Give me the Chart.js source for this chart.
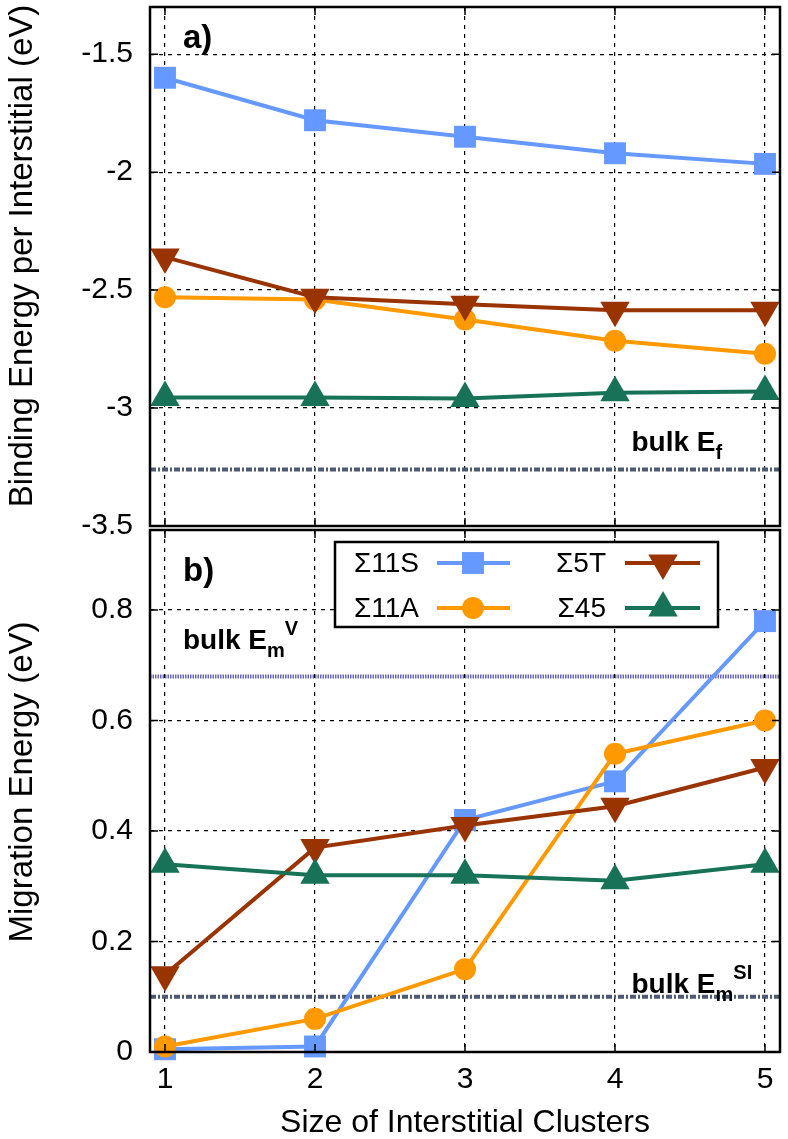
<!DOCTYPE html>
<html>
<head>
<meta charset="utf-8">
<script src="https://cdn.jsdelivr.net/npm/chart.js@4.4.0/dist/chart.umd.min.js"></script>
<style>
  html, body { margin: 0; padding: 0; background: #fff; }
  #wrap { position: relative; width: 788px; height: 1139px; }
  canvas { position: absolute; left: 0; }
  #topChart { top: 0; }
  #bottomChart { top: 524px; }
</style>
</head>
<body>
<div id="wrap">
  <canvas id="topChart" width="788" height="560"></canvas>
  <canvas id="bottomChart" width="788" height="615"></canvas>
</div>
<script>
// cluster sizes on the x axis
const clusterSizes = [1, 2, 3, 4, 5];
const seriesNames = ['Σ11S', 'Σ11A', 'Σ5T', 'Σ45'];

// a) binding energy per interstitial (eV)
const binding11S = [-1.60, -1.78, -1.85, -1.92, -1.965];
const binding11A = [-2.53, -2.54, -2.625, -2.715, -2.77];
const binding5T = [-2.36, -2.53, -2.56, -2.585, -2.585];
const binding45 = [-2.955, -2.955, -2.96, -2.935, -2.93];

// b) migration energy (eV)
const migration11S = [0.005, 0.01, 0.42, 0.49, 0.78];
const migration11A = [0.01, 0.06, 0.15, 0.54, 0.60];
const migration5T = [0.14, 0.37, 0.41, 0.445, 0.515];
const migration45 = [0.34, 0.32, 0.32, 0.31, 0.34];

// bulk reference values
const bulkEf = -3.26;
const bulkEmV = 0.68;
const bulkEmSI = 0.10;

// tick values
const xTicks = [1, 2, 3, 4, 5];
const topTicks = [-3.5, -3, -2.5, -2, -1.5];
const bottomTicks = [0, 0.2, 0.4, 0.6, 0.8];

const FONT = '"Liberation Sans", Arial, Helvetica, sans-serif';
Chart.defaults.font.family = FONT;

const styles = [
    { color: '#6699FF', pointStyle: 'rect', radius: 15.5, rotation: 0 },
    { color: '#FF9900', pointStyle: 'circle', radius: 11, rotation: 0 },
    { color: '#993300', pointStyle: 'triangle', radius: 17, rotation: 180 },
    { color: '#177257', pointStyle: 'triangle', radius: 17, rotation: 0 }
];

function seriesDataset(i, values) {
    const s = styles[i];
    return {
        label: seriesNames[i],
        data: clusterSizes.map((x, k) => ({ x: x, y: values[k] })),
        borderColor: s.color,
        backgroundColor: s.color,
        borderWidth: 4,
        pointStyle: s.pointStyle,
        pointRadius: s.radius,
        pointHoverRadius: s.radius,
        pointRotation: s.rotation,
        pointBackgroundColor: s.color,
        pointBorderWidth: 0,
        tension: 0,
        clip: false,
        order: 4 - i
    };
}

function refLine(value, color, dash) {
    return {
        label: 'ref',
        data: [{ x: 0.9, y: value }, { x: 5.1, y: value }],
        borderColor: color,
        borderWidth: 4,
        borderDash: dash,
        borderCapStyle: 'butt',
        pointRadius: 0,
        pointHoverRadius: 0,
        order: 10
    };
}

// text with sub/superscripts
function drawRich(ctx, x, y, parts) {
    let cx = x;
    parts.forEach(p => {
        ctx.font = 'bold ' + p.size + 'px ' + FONT;
        ctx.fillText(p.t, cx, y + (p.dy || 0));
        cx += ctx.measureText(p.t).width;
    });
}

const decor = {
    id: 'decor',
    afterDatasetsDraw(chart, args, opts) {
        const ctx = chart.ctx;
        const a = chart.chartArea;
        const xs = chart.scales.x, ys = chart.scales.y;
        ctx.save();
        ctx.setLineDash([]);
        ctx.strokeStyle = '#000';
        ctx.fillStyle = '#000';

        // inward ticks
        ctx.lineWidth = 1.5;
        ctx.beginPath();
        opts.yTicks.forEach(v => {
            const py = ys.getPixelForValue(v);
            ctx.moveTo(a.left, py); ctx.lineTo(a.left + 8, py);
            ctx.moveTo(a.right, py); ctx.lineTo(a.right - 8, py);
        });
        xTicks.forEach(v => {
            const px = xs.getPixelForValue(v);
            ctx.moveTo(px, a.bottom); ctx.lineTo(px, a.bottom - 8);
            ctx.moveTo(px, a.top); ctx.lineTo(px, a.top + 8);
        });
        ctx.stroke();

        // frame
        ctx.lineWidth = 2.5;
        ctx.strokeRect(a.left, a.top, a.right - a.left, a.bottom - a.top);

        // annotations
        ctx.textAlign = 'left';
        ctx.textBaseline = 'alphabetic';
        opts.notes.forEach(n => {
            drawRich(ctx, xs.getPixelForValue(n.x), ys.getPixelForValue(n.y), n.parts);
        });

        // y axis title
        ctx.save();
        ctx.translate(32, opts.titleY);
        ctx.rotate(-Math.PI / 2);
        ctx.font = '33px ' + FONT;
        ctx.textAlign = 'center';
        ctx.fillText(opts.yTitle, 0, 0);
        ctx.restore();

        // x axis title
        if (opts.xTitle) {
            ctx.font = '32px ' + FONT;
            ctx.textAlign = 'center';
            ctx.fillText(opts.xTitle, (a.left + a.right) / 2, 608);
        }

        // legend
        if (opts.legend) {
            const bx = a.left + 185, by = a.top + 12, bw = 383, bh = 85;
            ctx.fillStyle = '#fff';
            ctx.fillRect(bx, by, bw, bh);
            ctx.lineWidth = 2.5;
            ctx.strokeRect(bx, by, bw, bh);
            const cols = [{ text: 84, l1: 102, l2: 175, m: 138 }, { text: 271, l1: 290, l2: 365, m: 328 }];
            const rows = [21, 66];
            chart.data.datasets.forEach((ds, i) => {
                if (ds.label === 'ref') return;
                const c = cols[Math.floor(i / 2)], r = rows[i % 2];
                const cy = by + r;
                ctx.fillStyle = '#000';
                ctx.font = '28px ' + FONT;
                ctx.textAlign = 'right';
                ctx.textBaseline = 'middle';
                ctx.fillText(ds.label, bx + c.text, cy + 1);
                ctx.strokeStyle = ds.borderColor;
                ctx.lineWidth = 4;
                ctx.beginPath();
                ctx.moveTo(bx + c.l1, cy); ctx.lineTo(bx + c.l2, cy);
                ctx.stroke();
                ctx.fillStyle = ds.pointBackgroundColor;
                Chart.helpers.drawPoint(ctx, {
                    pointStyle: ds.pointStyle,
                    radius: ds.pointRadius,
                    rotation: ds.pointRotation,
                    borderWidth: 0
                }, bx + c.m, cy);
            });
        }
        ctx.restore();
    }
};

function makeOptions(yMin, yMax, yTickVals, isBottom, decorOpts) {
    return {
        responsive: false,
        animation: false,
        events: [],
        layout: {
            autoPadding: false,
            padding: isBottom ? { top: 6, right: 8, bottom: 0, left: 0 } : { top: 7, right: 8, bottom: 34, left: 0 }
        },
        plugins: { legend: { display: false }, tooltip: { enabled: false }, decor: decorOpts },
        scales: {
            x: {
                type: 'linear', min: 0.9, max: 5.1,
                afterBuildTicks: s => { s.ticks = xTicks.map(v => ({ value: v })); },
                afterFit: s => {
                    s.height = isBottom ? 87 : 0;
                    s.paddingLeft = 0; s.paddingRight = 0; s.paddingTop = 0; s.paddingBottom = 0;
                },
                ticks: { display: isBottom, color: '#000', font: { size: 30 }, padding: 10, maxRotation: 0, callback: v => String(v) },
                grid: { color: '#000', lineWidth: 1.2, drawTicks: false },
                border: { display: false, dash: [4, 5] }
            },
            y: {
                type: 'linear', min: yMin, max: yMax,
                afterBuildTicks: s => { s.ticks = yTickVals.map(v => ({ value: v })); },
                afterFit: s => {
                    s.width = 150;
                    s.paddingLeft = 0; s.paddingRight = 0; s.paddingTop = 0; s.paddingBottom = 0;
                },
                ticks: { color: '#000', font: { size: 30 }, padding: 17, callback: v => String(v) },
                grid: { color: '#000', lineWidth: 1.2, drawTicks: false },
                border: { display: false, dash: [4, 5] }
            }
        }
    };
}

new Chart(document.getElementById('topChart').getContext('2d'), {
    type: 'line',
    data: {
        datasets: [
            seriesDataset(0, binding11S),
            seriesDataset(1, binding11A),
            seriesDataset(2, binding5T),
            seriesDataset(3, binding45),
            refLine(bulkEf, '#4d5a72', [6, 2, 2, 2])
        ]
    },
    options: makeOptions(-3.5, -1.3, topTicks, false, {
        yTicks: topTicks,
        yTitle: 'Binding Energy per Interstitial (eV)',
        titleY: 256,
        notes: [
            { x: 1.12, y: -1.475, parts: [{ t: 'a)', size: 33 }] },
            { x: 4.11, y: -3.182, parts: [{ t: 'bulk E', size: 28 }, { t: 'f', size: 20, dy: 8 }] }
        ]
    }),
    plugins: [decor]
});

new Chart(document.getElementById('bottomChart').getContext('2d'), {
    type: 'line',
    data: {
        datasets: [
            seriesDataset(0, migration11S),
            seriesDataset(1, migration11A),
            seriesDataset(2, migration5T),
            seriesDataset(3, migration45),
            refLine(bulkEmV, '#6a66b8', [1.5, 1]),
            refLine(bulkEmSI, '#4d5a72', [6, 2, 2, 2])
        ]
    },
    options: makeOptions(0, 0.945, bottomTicks, true, {
        yTicks: bottomTicks,
        yTitle: 'Migration Energy (eV)',
        titleY: 258,
        xTitle: 'Size of Interstitial Clusters',
        legend: true,
        notes: [
            { x: 1.12, y: 0.853, parts: [{ t: 'b)', size: 33 }] },
            { x: 1.12, y: 0.729, parts: [{ t: 'bulk E', size: 28 }, { t: 'm', size: 20, dy: 8 }, { t: 'V', size: 20, dy: -14 }] },
            { x: 4.11, y: 0.107, parts: [{ t: 'bulk E', size: 28 }, { t: 'm', size: 20, dy: 8 }, { t: 'SI', size: 20, dy: -14 }] }
        ]
    }),
    plugins: [decor]
});
</script>
</body>
</html>
